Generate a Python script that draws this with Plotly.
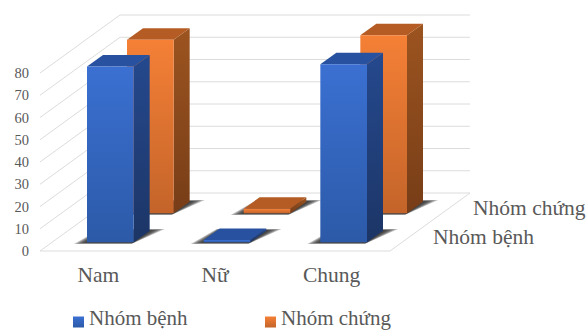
import plotly.graph_objects as go

# Chart data
categories = ["Nam", "Nữ", "Chung"]
groups = ["Nhóm bệnh", "Nhóm chứng"]
benh_values = [79, 1, 80]
chung_values = [78, 2, 80]
value_ticks = [0, 10, 20, 30, 40, 50, 60, 70, 80]

# Figure and scale settings
WIDTH, HEIGHT = 586, 331
LEFT_PX, FLOOR_PX = 40, 251
CAT_PX = 350 / 3
VAL_PX = 2.225
ROW_DX_PX, ROW_DY_PX = 40, 29
DX = ROW_DX_PX / CAT_PX
DY = ROW_DY_PX / VAL_PX
BAR_W = 0.40
BAR_D = 0.40
BAR_D0 = 0.30
FONT = "Times New Roman, Liberation Serif, serif"
TEXT = "#595959"
GRID = "#dcdcdc"

# Face colours: (front top, front bottom, side top, side bottom, top face)
BLUE = ("#3b70d2", "#2c5aa8", "#25498e", "#1c3566", "#28529f")
ORANGE = ("#f58036", "#c4642a", "#9c5420", "#773d17", "#b45c24")


def project(cat, depth, value):
    """Oblique projection: depth rows slide right and upward."""
    return cat + depth * DX, value + depth * DY


def polygon(points):
    xs, ys = zip(*[project(*p) for p in points])
    return list(xs) + [xs[0]], list(ys) + [ys[0]]


def x_from_px(px):
    return (px - LEFT_PX) / CAT_PX


def y_from_px(px):
    return (FLOOR_PX - px) / VAL_PX


fig = go.Figure()


def add_line(points):
    xs, ys = zip(*[project(*p) for p in points])
    fig.add_trace(go.Scatter(x=xs, y=ys, mode="lines", line=dict(color=GRID, width=1),
                             showlegend=False, hoverinfo="skip"))


def add_face(points, top_color, bottom_color=None):
    xs, ys = polygon(points)
    style = dict(fillcolor=top_color)
    if bottom_color:
        style = dict(fillgradient=dict(type="vertical",
                                       colorscale=[[0, bottom_color], [1, top_color]]))
    fig.add_trace(go.Scatter(x=xs, y=ys, mode="lines", line=dict(width=0), fill="toself",
                             showlegend=False, hoverinfo="skip", **style))


# Walls and floor
n = len(categories)
for v in value_ticks:
    add_line([(0, 0, v), (0, 2, v), (n, 2, v)])
add_line([(0, 0, 0), (n, 0, 0), (n, 2, 0)])


def add_bar(i, row, value, colors):
    c0 = i + 0.5 - BAR_W / 2
    c1 = c0 + BAR_W
    d0 = row + BAR_D0
    d1 = d0 + BAR_D
    # Soft floor shadow, widened in several translucent layers
    for k in range(1, 6):
        grow = 0.018 * k
        near, far = d0 - 0.012 * k, d1 + 0.012 * k
        add_face([(c0 - grow, near, 0), (c1, near, 0),
                  (c1 + 1.2 * grow, far, 0), (c0 - 0.5 * grow, far, 0)],
                 "rgba(30,30,30,0.3)")
    # Side, top and front faces
    add_face([(c1, d0, 0), (c1, d1, 0), (c1, d1, value), (c1, d0, value)], colors[2], colors[3])
    add_face([(c0, d0, value), (c1, d0, value), (c1, d1, value), (c0, d1, value)], colors[4])
    add_face([(c0, d0, 0), (c1, d0, 0), (c1, d0, value), (c0, d0, value)], colors[0], colors[1])


# Rear row first so the front row overlaps it
for i, v in enumerate(chung_values):
    add_bar(i, 1, v, ORANGE)
for i, v in enumerate(benh_values):
    add_bar(i, 0, v, BLUE)

# Key along the bottom: colour square followed by the group name
for name, colors, key_px in zip(groups, (BLUE, ORANGE), (78.5, 270.5)):
    fig.add_trace(go.Scatter(x=[x_from_px(key_px)], y=[y_from_px(322)], mode="markers",
                             marker=dict(symbol="square", size=11, color=colors[0],
                                         gradient=dict(type="vertical", color=colors[1])),
                             showlegend=False, hoverinfo="skip", cliponaxis=False))
    fig.add_annotation(x=x_from_px(key_px + 9.5), y=y_from_px(318), text=name, showarrow=False,
                       xanchor="left", yanchor="middle", borderpad=0,
                       font=dict(family=FONT, size=21, color=TEXT))

# Depth axis labels beside the floor
for row, name in enumerate(groups):
    x, y = project(n, row + 0.5, 0)
    fig.add_annotation(x=x, y=y, text=name, showarrow=False, xanchor="left", xshift=21,
                       yanchor="middle", font=dict(family=FONT, size=21.5, color=TEXT))

fig.update_layout(
    width=WIDTH, height=HEIGHT, autosize=False,
    margin=dict(l=0, r=0, t=0, b=0),
    paper_bgcolor="white", plot_bgcolor="white",
    font=dict(family=FONT, color=TEXT),
    xaxis=dict(range=[-LEFT_PX / CAT_PX, (WIDTH - LEFT_PX) / CAT_PX], fixedrange=True,
               tickmode="array", tickvals=[i + 0.5 for i in range(n)], ticktext=categories,
               tickfont=dict(family=FONT, size=21.5, color=TEXT),
               showgrid=False, zeroline=False, showline=False, ticks="",
               anchor="free", position=(HEIGHT - 259) / HEIGHT),
    yaxis=dict(range=[(FLOOR_PX - HEIGHT) / VAL_PX, FLOOR_PX / VAL_PX], fixedrange=True,
               tickmode="array", tickvals=value_ticks,
               tickfont=dict(family=FONT, size=14.5, color=TEXT),
               showgrid=False, zeroline=False, showline=False, ticks="",
               anchor="free", position=29 / WIDTH),
    showlegend=False,
)

fig.write_html("out.html", config=dict(displayModeBar=False))
